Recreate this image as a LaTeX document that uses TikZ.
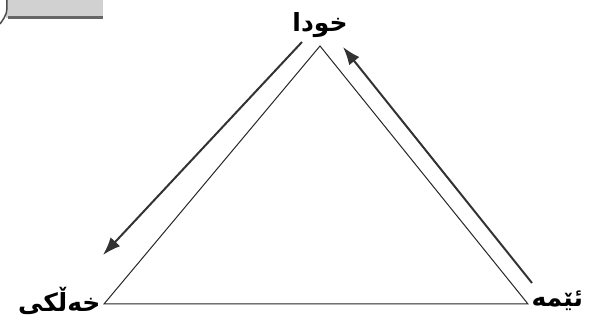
\documentclass[tikz,border=0pt]{standalone}
\usepackage{fontspec}
\newfontfamily\arabicfont[Script=Arabic]{DejaVu Sans}
\TeXXeTstate=1
\usetikzlibrary{arrows.meta,positioning}

\begin{document}
\begin{tikzpicture}[x=1pt,y=1pt,>={Latex[length=18pt,width=13pt]},font=\arabicfont\bfseries\fontsize{25}{30}\selectfont,
    side/.style={draw=black!85,line width=1pt},
    flow/.style={->,draw=black!80,line width=2pt}]
    \useasboundingbox (0,0) rectangle (595,320);
    % grey scrap of a heading box, top left
    \fill [black!18] (6,302) rectangle (103,320);
    \draw [black!60,line width=3pt] (8,302) -- (103,302);
    \draw [black!70,line width=1.5pt] (7,320) .. controls (7,306) .. (0,296);
    % corners of the triangle
    \coordinate (god) at (320,274);
    \coordinate (people) at (104,16);
    \coordinate (us) at (528,16);
    \draw [side] (god) -- (people) -- (us) -- cycle;
    \node (godlbl) at (320,295) {\beginR خودا\endR};
    \node [left=0pt of people,yshift=3pt] (peoplelbl) {\beginR خەڵکی\endR};
    \node [right=0pt of us,yshift=3pt] (uslbl) {\beginR ئێمە\endR};
    % the two flows
    \coordinate (downtop) at (302,278);
    \coordinate (downend) at (103,65);
    \coordinate (upstart) at (532,37);
    \coordinate (upend) at (343,273);
    \draw [flow] (downtop) -- (downend);
    \draw [flow] (upstart) -- (upend);
\end{tikzpicture}
\end{document}
